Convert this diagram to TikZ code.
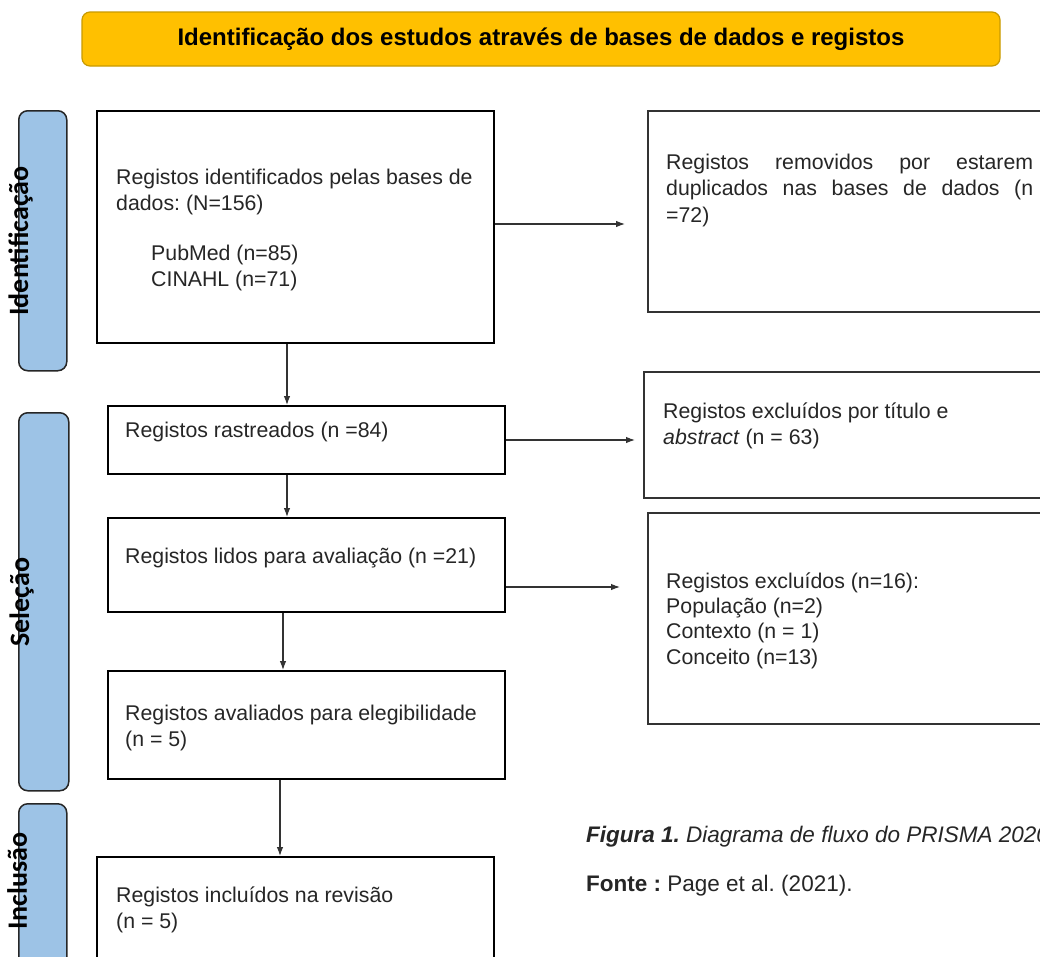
\documentclass[tikz,border=0pt]{standalone}
\usepackage{fontspec}
\setmainfont{Liberation Sans}
\newfontfamily\carlito{Carlito}
\usetikzlibrary{arrows.meta}
\definecolor{bannerfill}{HTML}{FFC000}
\definecolor{bannerdraw}{HTML}{C89A00}
\definecolor{sidefill}{HTML}{9DC3E6}
\definecolor{txt}{HTML}{262626}
\frenchspacing
\begin{document}
\begin{tikzpicture}[x=1pt,y=-1pt,
  box/.style={draw=black, line width=1.8pt, fill=white, anchor=north west, inner sep=0pt},
  rbox/.style={draw=black!80, line width=2.2pt, fill=white, anchor=north west, inner sep=0pt},
  side/.style={draw=black!85, line width=1.5pt, fill=sidefill, rounded corners=9pt, anchor=north west, inner sep=0pt},
  lbl/.style={text=txt, font=\fontsize{21.3}{26}\selectfont, align=left, inner sep=0pt, anchor=base west},
  sidelbl/.style={text=black, font=\carlito\bfseries\fontsize{28}{30}\selectfont, rotate=90, inner sep=0pt, anchor=base},
  arr/.style={draw=black!80, line width=1.1pt, -{Latex[length=9pt,width=6.5pt]}}
]
\useasboundingbox (0,0) rectangle (1040,956);
\fill[white] (0,0) rectangle (1040,956);

% banner
\node[draw=bannerdraw, line width=1.2pt, fill=bannerfill, rounded corners=8pt,
      minimum width=918pt, minimum height=54pt, inner sep=0pt,
      font=\bfseries\fontsize{24}{28}\selectfont] (banner) at (541,39)
      {Identificação dos estudos através de bases de dados e registos};

% side bars
\node[side, minimum width=48pt, minimum height=260pt] (s1) at (18,110) {};
\node[side, minimum width=50pt, minimum height=378pt] (s2) at (18,412) {};
\node[side, minimum width=48pt, minimum height=170pt] (s3) at (18,803) {};
\node[sidelbl] (s1t) at (28,241) {Identificação};
\node[sidelbl] (s2t) at (29,602) {Seleção};
\node[sidelbl] (s3t) at (27,881) {Inclusão};

% left boxes
\node[box, minimum width=397pt, minimum height=232pt] (b1) at (96,110) {};
\node[box, minimum width=397pt, minimum height=68pt] (b2) at (107,405) {};
\node[box, minimum width=397pt, minimum height=94pt] (b3) at (107,517) {};
\node[box, minimum width=397pt, minimum height=108pt] (b4) at (107,670) {};
\node[box, minimum width=397pt, minimum height=110pt] (b5) at (96,856) {};

% right boxes
\node[rbox, minimum width=400pt, minimum height=201pt] (r1) at (647,110) {};
\node[rbox, minimum width=404pt, minimum height=126pt] (r2) at (643,371) {};
\node[rbox, minimum width=400pt, minimum height=211pt] (r3) at (647,512) {};

% texts (multi-line nodes: anchored at the baseline of their last line)
\node[lbl] (t1a) at (116,210) {Registos identificados pelas bases de\\dados: (N=156)};
\node[lbl] (t1b) at (151,286) {PubMed (n=85)\\CINAHL (n=71)};
\node[lbl, text width=367pt, align=justify, font=\fontsize{21.3}{26.5}\selectfont] (tr1) at (666,169)
  {Registos removidos por estarem\linebreak duplicados nas bases de dados (n\linebreak =72)};
\node[lbl] (t2) at (125,437) {Registos rastreados (n =84)};
\node[lbl] (tr2) at (663,444) {Registos excluídos por título e\\\textit{abstract} (n = 63)};
\node[lbl] (t3) at (125,563) {Registos lidos para avaliação (n =21)};
\node[lbl, font=\fontsize{21.3}{25.3}\selectfont] (tr3) at (666,664) {Registos excluídos (n=16):\\População (n=2)\\Contexto (n = 1)\\Conceito (n=13)};
\node[lbl] (t4) at (125,746) {Registos avaliados para elegibilidade\\(n = 5)};
\node[lbl] (t5) at (116,928) {Registos incluídos na revisão\\(n = 5)};

% caption
\node[lbl, font=\fontsize{22.5}{26}\selectfont] (cap1) at (586,842) {\textbf{\textit{Figura 1.}} \textit{Diagrama de fluxo do PRISMA 2020}};
\node[lbl, font=\fontsize{22.5}{26}\selectfont] (cap2) at (586,891) {\textbf{Fonte :} Page et al. (2021).};

% connectors
\coordinate (e1) at (625,224);
\coordinate (e2) at (635,440);
\coordinate (e3) at (620,587);
\draw[arr] (b1.east |- e1) -- (e1);
\draw[arr] (b2.east |- e2) -- (e2);
\draw[arr] (b3.east |- e3) -- (e3);
\coordinate (v1) at (287,0);
\coordinate (v2) at (287,0);
\coordinate (v3) at (283,0);
\coordinate (v4) at (280,0);
\draw[arr] (b1.south -| v1) -- (b2.north -| v1);
\draw[arr] (b2.south -| v2) -- (b3.north -| v2);
\draw[arr] (b3.south -| v3) -- (b4.north -| v3);
\draw[arr] (b4.south -| v4) -- (b5.north -| v4);
\end{tikzpicture}
\end{document}
